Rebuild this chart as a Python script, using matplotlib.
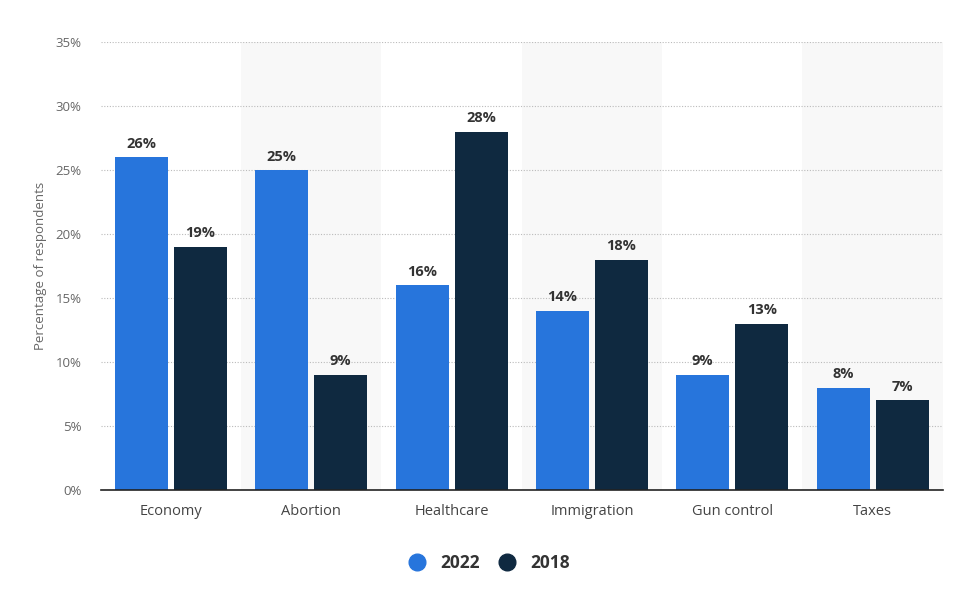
import matplotlib.pyplot as plt
import numpy as np
from matplotlib.lines import Line2D

plt.rcParams['font.family'] = ['Open Sans', 'DejaVu Sans']

categories = ['Economy', 'Abortion', 'Healthcare', 'Immigration', 'Gun control', 'Taxes']
values_2022 = [26, 25, 16, 14, 9, 8]
values_2018 = [19, 9, 28, 18, 13, 7]
y_ticks = [0, 5, 10, 15, 20, 25, 30, 35]

color_2022 = '#2775dc'
color_2018 = '#0f2940'

fig = plt.figure(figsize=(9.6, 6.04), dpi=100)
ax = fig.add_axes([0.105, 0.189, 0.877, 0.741])

x = np.arange(len(categories))
width = 0.378
off = 0.21

# shaded bands behind every other category
for i in x:
    if i % 2 == 1:
        ax.axvspan(i - 0.5, i + 0.5, color='#f8f8f8', zorder=0, lw=0)

b1 = ax.bar(x - off, values_2022, width, color=color_2022, zorder=3)
b2 = ax.bar(x + off, values_2018, width, color=color_2018, zorder=3)

for bars, vals in [(b1, values_2022), (b2, values_2018)]:
    for rect, v in zip(bars, vals):
        ax.text(rect.get_x() + rect.get_width() / 2, v + 0.5, f'{v}%',
                ha='center', va='bottom', fontsize=10.5, fontweight='bold',
                color='#333333', zorder=4)

ax.set_xlim(-0.5, len(categories) - 0.5)
ax.set_ylim(0, 35)
ax.set_yticks(y_ticks)
ax.set_yticklabels([f'{t}%' for t in y_ticks])
ax.set_xticks(x)
ax.set_xticklabels(categories)
ax.tick_params(axis='y', length=0, labelsize=9.5, labelcolor='#666666', pad=14)
ax.tick_params(axis='x', length=0, labelsize=10.5, labelcolor='#444444', pad=10)

ax.yaxis.grid(True, linestyle=(0, (1, 1.5)), color='#bbbbbb', linewidth=0.8, zorder=1)
ax.set_axisbelow(True)
for s in ['top', 'right', 'left']:
    ax.spines[s].set_visible(False)
ax.spines['bottom'].set_color('#222222')
ax.spines['bottom'].set_linewidth(1.2)
ax.spines['bottom'].set_zorder(5)

ax.set_ylabel('Percentage of respondents', fontsize=9.5, color='#666666', labelpad=6)

handles = [Line2D([], [], marker='o', linestyle='', markersize=12, color=color_2022),
           Line2D([], [], marker='o', linestyle='', markersize=12, color=color_2018)]
fig.legend(handles, ['2022', '2018'], loc='center', bbox_to_anchor=(0.505, 0.068),
           ncol=2, frameon=False, handletextpad=0.3, columnspacing=0.6,
           prop={'weight': 'bold', 'size': 12.5})
for t in fig.legends[0].get_texts():
    t.set_color('#333333')

fig.savefig('out.png', dpi=100)
